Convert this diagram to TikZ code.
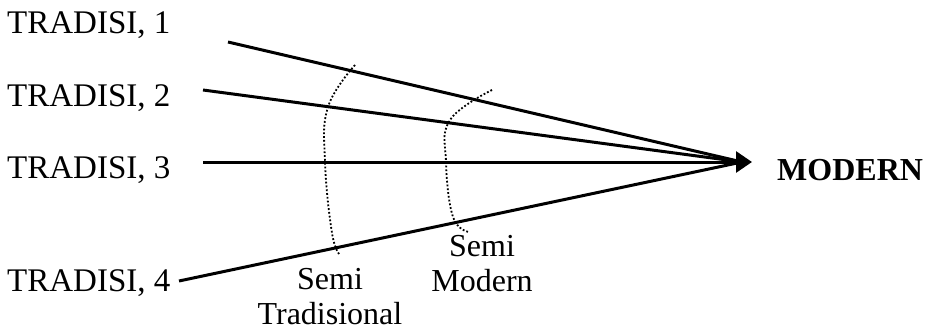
\documentclass[tikz,border=0pt]{standalone}
\usepackage{fontspec}
\setmainfont{Liberation Serif}
\usetikzlibrary{arrows.meta}
\begin{document}
\begin{tikzpicture}[x=1pt,y=-1pt,
  lbl/.style={anchor=west,inner sep=0pt,font=\fontsize{33}{38}\selectfont},
  ctr/.style={align=center,inner sep=0pt,font=\fontsize{32}{35}\selectfont},
  ray/.style={line width=3pt},
  arc/.style={line width=1.8pt,dotted}]
\useasboundingbox (0,0) rectangle (926,332);
\node[lbl] (t1) at (7,25) {TRADISI, 1};
\node[lbl] (t2) at (7,98) {TRADISI, 2};
\node[lbl] (t3) at (7,170) {TRADISI, 3};
\node[lbl] (t4) at (7,283) {TRADISI, 4};
\node[lbl,font=\fontsize{32}{38}\selectfont\bfseries] (m) at (777,170) {MODERN};
\node[ctr] (st) at (330,297) {Semi\\Tradisional};
\node[ctr] (sm) at (482,264) {Semi\\Modern};
\coordinate (s1) at (228,42);
\coordinate (s2) at (203,90);
\coordinate (s3) at (203,162);
\coordinate (s4) at (179,281);
\coordinate (tip) at (752,162);
\coordinate (e) at (742,162);
\draw[ray] (s1) -- (e);
\draw[ray] (s2) -- (e);
\draw[ray] (s4) -- (e);
\draw[ray,-{Triangle[length=16pt,width=21pt]}] (s3) -- (tip);
\draw[arc] plot[smooth,tension=0.7] coordinates {(355,65) (328,107) (325,162) (332,233) (340,255)};
\draw[arc] plot[smooth,tension=0.7] coordinates {(492,90) (450,120) (446,162) (453,217) (469,232)};
\end{tikzpicture}
\end{document}
